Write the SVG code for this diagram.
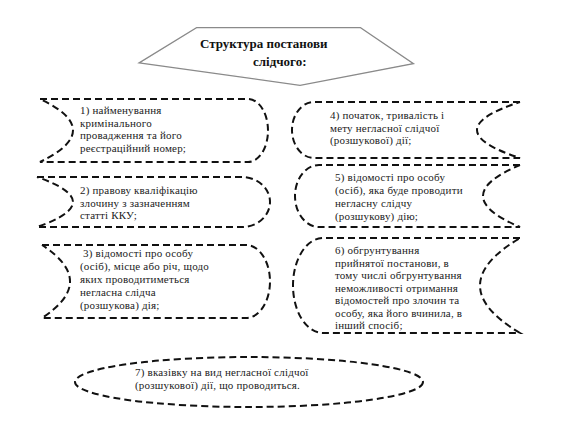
<svg xmlns="http://www.w3.org/2000/svg" width="570" height="441" viewBox="0 0 570 441">
<style>
.box{fill:none;stroke:#111;stroke-width:2;stroke-dasharray:7 4}
.t{font-family:"Liberation Serif","DejaVu Serif","Noto Serif",serif;font-size:11px;letter-spacing:0.2px;fill:#222}
.h{font-family:"Liberation Serif","DejaVu Serif","Noto Serif",serif;font-size:13px;font-weight:bold;fill:#111}
</style>
<rect width="570" height="441" fill="#fff"/>
<g id="header">
<polygon points="197,29 360,29 410,63 300,84 143,62" fill="none" stroke="#8a8a8a" stroke-width="4"/>
<polygon points="197,29 360,29 410,63 300,84 143,62" fill="#fff" stroke="#fff" stroke-width="1.3"/>
<text class="h" x="200" y="48">Структура постанови</text>
<text class="h" x="253" y="66">слідчого:</text>
</g>
<g id="n1">
<path class="box" d="M40,99 L248,99 A20,31.5 0 0 1 248,162 L40,162 Q106,130 40,99"/>
<text class="t"><tspan x="80" y="114">1) найменування</tspan><tspan x="80" y="126.5">кримінального</tspan><tspan x="80" y="139">провадження та його</tspan><tspan x="80" y="151.5">реєстраційний номер;</tspan></text>
</g>
<g id="n2">
<path class="box" d="M37,177 L242,177 A28,25 0 0 1 242,227 L37,227 Q109,202 37,177"/>
<text class="t"><tspan x="80" y="194">2) правову кваліфікацію</tspan><tspan x="80" y="206.5">злочину з зазначенням</tspan><tspan x="80" y="219">статті ККУ;</tspan></text>
</g>
<g id="n3">
<path class="box" d="M42,245 L246,245 A24,36.5 0 0 1 246,318 L42,318 Q98,281.5 42,245"/>
<text class="t"><tspan x="83" y="257">3) відомості про особу</tspan><tspan x="80" y="270">(осіб), місце або річ, щодо</tspan><tspan x="80" y="283">яких проводитиметься</tspan><tspan x="80" y="296">негласна слідча</tspan><tspan x="80" y="309">(розшукова) дія;</tspan></text>
</g>
<g id="n4">
<path class="box" d="M520,102 L314,102 A22,28 0 0 0 314,158 L520,158 Q434,130 520,102"/>
<text class="t"><tspan x="330" y="119">4) початок, тривалість і</tspan><tspan x="330" y="131.5">мету негласної слідчої</tspan><tspan x="330" y="144">(розшукової) дії;</tspan></text>
</g>
<g id="n5">
<path class="box" d="M520,165 L319,165 A24,31 0 0 0 319,227 L520,227 Q446,196 520,165"/>
<text class="t"><tspan x="335" y="181">5) відомості про особу</tspan><tspan x="335" y="194">(осіб), яка буде проводити</tspan><tspan x="335" y="207">негласну слідчу</tspan><tspan x="335" y="220">(розшукову) дію;</tspan></text>
</g>
<g id="n6">
<path class="box" d="M520,238 L323,238 A30,47.5 0 0 0 323,333 L520,333 Q440,285.5 520,238"/>
<text class="t"><tspan x="335" y="254">6) обгрунтування</tspan><tspan x="335" y="266.5">прийнятої постанови, в</tspan><tspan x="335" y="279">тому числі обгрунтування</tspan><tspan x="335" y="291.5">неможливості отримання</tspan><tspan x="335" y="304">відомостей про злочин та</tspan><tspan x="335" y="316.5">особу, яка його вчинила, в</tspan><tspan x="335" y="329">інший спосіб;</tspan></text>
</g>
<g id="n7">
<ellipse class="box" cx="249" cy="382" rx="174" ry="25"/>
<text class="t"><tspan x="135" y="376">7) вказівку на вид негласної слідчої</tspan><tspan x="135" y="388.5">(розшукової) дії, що проводиться.</tspan></text>
</g>
<g id="connectors"></g>
</svg>
